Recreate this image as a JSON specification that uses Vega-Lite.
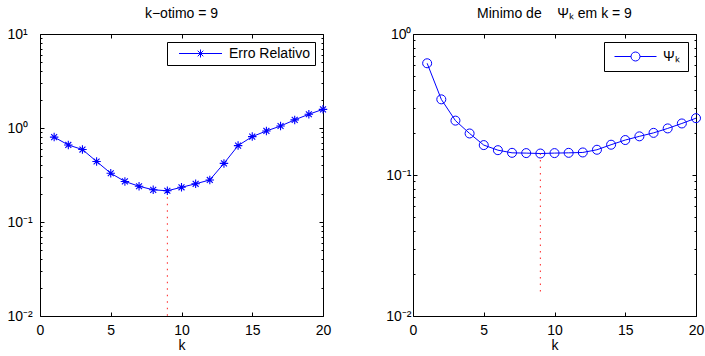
{
  "$schema": "https://vega.github.io/schema/vega-lite/v6.json",
  "padding": {"left": 4, "top": 6, "right": 0, "bottom": 0},
  "config": {
    "font": "Liberation Sans",
    "view": {"stroke": "black", "strokeWidth": 1},
    "axis": {"domain": false, "grid": false, "labelFont": "Liberation Sans", "labelFontSize": 14, "labelColor": "black", "tickColor": "black", "tickWidth": 1, "titleFont": "Liberation Sans", "titleFontSize": 14, "titleFontWeight": "normal", "titleColor": "black", "labelFlush": false, "labelOverlap": false},
    "title": {"font": "Liberation Sans", "fontSize": 14, "fontWeight": "normal", "color": "black", "frame": "group", "anchor": "middle", "offset": 6},
    "legend": {"titleFontSize": 14, "labelFont": "Liberation Sans", "labelFontSize": 14, "labelColor": "black", "strokeColor": "black", "fillColor": "white", "orient": "top-right", "offset": 7.5, "symbolStrokeWidth": 1, "symbolFillColor": "transparent", "cornerRadius": 0}
  },
  "spacing": 53,
  "resolve": {"scale": {"color": "independent"}, "legend": {"color": "independent"}},
  "hconcat": [
    {
      "width": 283,
      "height": 282,
      "title": {"text": "k−otimo = 9"},
      "data": {"values": [
        {"k": 1, "err": 0.80}, {"k": 2, "err": 0.66}, {"k": 3, "err": 0.59}, {"k": 4, "err": 0.44},
        {"k": 5, "err": 0.33}, {"k": 6, "err": 0.27}, {"k": 7, "err": 0.24}, {"k": 8, "err": 0.22},
        {"k": 9, "err": 0.215}, {"k": 10, "err": 0.234}, {"k": 11, "err": 0.255}, {"k": 12, "err": 0.28},
        {"k": 13, "err": 0.42}, {"k": 14, "err": 0.65}, {"k": 15, "err": 0.81}, {"k": 16, "err": 0.93},
        {"k": 17, "err": 1.05}, {"k": 18, "err": 1.22}, {"k": 19, "err": 1.40}, {"k": 20, "err": 1.58}
      ]},
      "layer": [
        {
          "data": {"values": [{"k": 9, "top": 0.215, "bottom": 0.01}]},
          "mark": {"type": "rule", "color": "#ff2020", "strokeDash": [1.5, 5], "strokeWidth": 1},
          "encoding": {
            "x": {"field": "k", "type": "quantitative", "scale": {"domain": [0, 20], "nice": false, "zero": false},
              "axis": {"orient": "bottom", "title": "k", "values": [0, 5, 10, 15, 20], "tickSize": -4, "labelPadding": 11, "titlePadding": 1.5}},
            "y": {"field": "top", "type": "quantitative", "scale": {"type": "log", "domain": [0.01, 10], "nice": false},
              "axis": {"orient": "left", "title": null,
                "values": [0.01, 0.02, 0.03, 0.04, 0.05, 0.06, 0.07, 0.08, 0.09, 0.1, 0.2, 0.3, 0.4, 0.5, 0.6, 0.7, 0.8, 0.9, 1, 2, 3, 4, 5, 6, 7, 8, 9, 10],
                "labelExpr": "datum.value == 10 ? '10¹' : datum.value == 1 ? '10⁰' : datum.value == 0.1 ? '10⁻¹' : datum.value == 0.01 ? '10⁻²' : ''",
                "labelAlign": "left", "labelPadding": 37,
                "tickSize": {"condition": {"test": "datum.value == 10 || datum.value == 1 || datum.value == 0.1 || datum.value == 0.01", "value": -4}, "value": -2}}},
            "y2": {"field": "bottom"}
          }
        },
        {
          "mark": {"type": "line", "strokeWidth": 1},
          "encoding": {
            "x": {"field": "k", "type": "quantitative", "scale": {"domain": [0, 20], "nice": false, "zero": false}, "axis": null},
            "y": {"field": "err", "type": "quantitative", "scale": {"type": "log", "domain": [0.01, 10], "nice": false}, "axis": null},
            "color": {"datum": "Erro Relativo", "scale": {"range": ["#0000ff"]},
              "legend": {"title": null, "padding": 4.5, "offset": 8, "symbolSize": 100, "symbolOffset": 22, "labelOffset": 21.5,
                "symbolType": "M-4.3,0H4.3M-0.8,0H0.8M0,-0.8V0.8M-0.56,-0.56L0.56,0.56M-0.56,0.56L0.56,-0.56"}}
          }
        },
        {
          "mark": {"type": "point", "shape": "M-1,0H1M0,-1V1M-0.7,-0.7L0.7,0.7M-0.7,0.7L0.7,-0.7", "size": 72, "filled": false, "color": "#0000ff", "strokeWidth": 1.1, "opacity": 1},
          "encoding": {
            "x": {"field": "k", "type": "quantitative", "scale": {"domain": [0, 20], "nice": false, "zero": false}, "axis": null},
            "y": {"field": "err", "type": "quantitative", "scale": {"type": "log", "domain": [0.01, 10], "nice": false}, "axis": null}
          }
        },
        {
          "mark": {"type": "point", "opacity": 0},
          "encoding": {
            "x": {"field": "k", "type": "quantitative", "scale": {"domain": [0, 20], "nice": false, "zero": false},
              "axis": {"orient": "top", "title": null, "labels": false, "values": [0, 5, 10, 15, 20], "tickSize": -4}},
            "y": {"field": "err", "type": "quantitative", "scale": {"type": "log", "domain": [0.01, 10], "nice": false},
              "axis": {"orient": "right", "title": null, "labels": false,
                "values": [0.01, 0.02, 0.03, 0.04, 0.05, 0.06, 0.07, 0.08, 0.09, 0.1, 0.2, 0.3, 0.4, 0.5, 0.6, 0.7, 0.8, 0.9, 1, 2, 3, 4, 5, 6, 7, 8, 9, 10],
                "tickSize": {"condition": {"test": "datum.value == 10 || datum.value == 1 || datum.value == 0.1 || datum.value == 0.01", "value": -4}, "value": -2}}}
          }
        }
      ],
      "resolve": {"axis": {"x": "independent", "y": "independent"}}
    },
    {
      "width": 283,
      "height": 282,
      "title": {"text": "Minimo de\u00a0\u00a0\u00a0\u00a0Ψₖ em k = 9"},
      "data": {"values": [
        {"k": 1, "psi": 0.62}, {"k": 2, "psi": 0.344}, {"k": 3, "psi": 0.243}, {"k": 4, "psi": 0.197},
        {"k": 5, "psi": 0.163}, {"k": 6, "psi": 0.150}, {"k": 7, "psi": 0.1436}, {"k": 8, "psi": 0.143},
        {"k": 9, "psi": 0.142}, {"k": 10, "psi": 0.143}, {"k": 11, "psi": 0.1436}, {"k": 12, "psi": 0.1445},
        {"k": 13, "psi": 0.151}, {"k": 14, "psi": 0.164}, {"k": 15, "psi": 0.177}, {"k": 16, "psi": 0.188},
        {"k": 17, "psi": 0.199}, {"k": 18, "psi": 0.214}, {"k": 19, "psi": 0.232}, {"k": 20, "psi": 0.253}
      ]},
      "layer": [
        {
          "data": {"values": [{"k": 9, "top": 0.142, "bottom": 0.0142}]},
          "mark": {"type": "rule", "color": "#ff2020", "strokeDash": [1.5, 5], "strokeWidth": 1},
          "encoding": {
            "x": {"field": "k", "type": "quantitative", "scale": {"domain": [0, 20], "nice": false, "zero": false},
              "axis": {"orient": "bottom", "title": "k", "values": [0, 5, 10, 15, 20], "tickSize": -4, "labelPadding": 11, "titlePadding": 1.5}},
            "y": {"field": "top", "type": "quantitative", "scale": {"type": "log", "domain": [0.01, 1], "nice": false},
              "axis": {"orient": "left", "title": null,
                "values": [0.01, 0.02, 0.03, 0.04, 0.05, 0.06, 0.07, 0.08, 0.09, 0.1, 0.2, 0.3, 0.4, 0.5, 0.6, 0.7, 0.8, 0.9, 1],
                "labelExpr": "datum.value == 1 ? '10⁰' : datum.value == 0.1 ? '10⁻¹' : datum.value == 0.01 ? '10⁻²' : ''",
                "labelAlign": "right", "labelPadding": 6,
                "tickSize": {"condition": {"test": "datum.value == 1 || datum.value == 0.1 || datum.value == 0.01", "value": -4}, "value": -2}}},
            "y2": {"field": "bottom"}
          }
        },
        {
          "mark": {"type": "line", "strokeWidth": 1},
          "encoding": {
            "x": {"field": "k", "type": "quantitative", "scale": {"domain": [0, 20], "nice": false, "zero": false}, "axis": null},
            "y": {"field": "psi", "type": "quantitative", "scale": {"type": "log", "domain": [0.01, 1], "nice": false}, "axis": null},
            "color": {"datum": "Ψₖ", "scale": {"range": ["#0000ff"]},
              "legend": {"title": null, "padding": 7.5, "offset": 8, "symbolSize": 100, "symbolOffset": 17, "labelOffset": 20.5,
                "symbolType": "M-4.2,0H-0.9M0.9,0H4.2M-0.9,0A0.9,0.9 0 1 1 0.9,0A0.9,0.9 0 1 1 -0.9,0"}}
          }
        },
        {
          "mark": {"type": "point", "shape": "circle", "size": 81, "filled": false, "color": "#0000ff", "strokeWidth": 1, "opacity": 1},
          "encoding": {
            "x": {"field": "k", "type": "quantitative", "scale": {"domain": [0, 20], "nice": false, "zero": false}, "axis": null},
            "y": {"field": "psi", "type": "quantitative", "scale": {"type": "log", "domain": [0.01, 1], "nice": false}, "axis": null}
          }
        },
        {
          "mark": {"type": "point", "opacity": 0},
          "encoding": {
            "x": {"field": "k", "type": "quantitative", "scale": {"domain": [0, 20], "nice": false, "zero": false},
              "axis": {"orient": "top", "title": null, "labels": false, "values": [0, 5, 10, 15, 20], "tickSize": -4}},
            "y": {"field": "psi", "type": "quantitative", "scale": {"type": "log", "domain": [0.01, 1], "nice": false},
              "axis": {"orient": "right", "title": null, "labels": false,
                "values": [0.01, 0.02, 0.03, 0.04, 0.05, 0.06, 0.07, 0.08, 0.09, 0.1, 0.2, 0.3, 0.4, 0.5, 0.6, 0.7, 0.8, 0.9, 1],
                "tickSize": {"condition": {"test": "datum.value == 1 || datum.value == 0.1 || datum.value == 0.01", "value": -4}, "value": -2}}}
          }
        }
      ],
      "resolve": {"axis": {"x": "independent", "y": "independent"}}
    }
  ]
}
